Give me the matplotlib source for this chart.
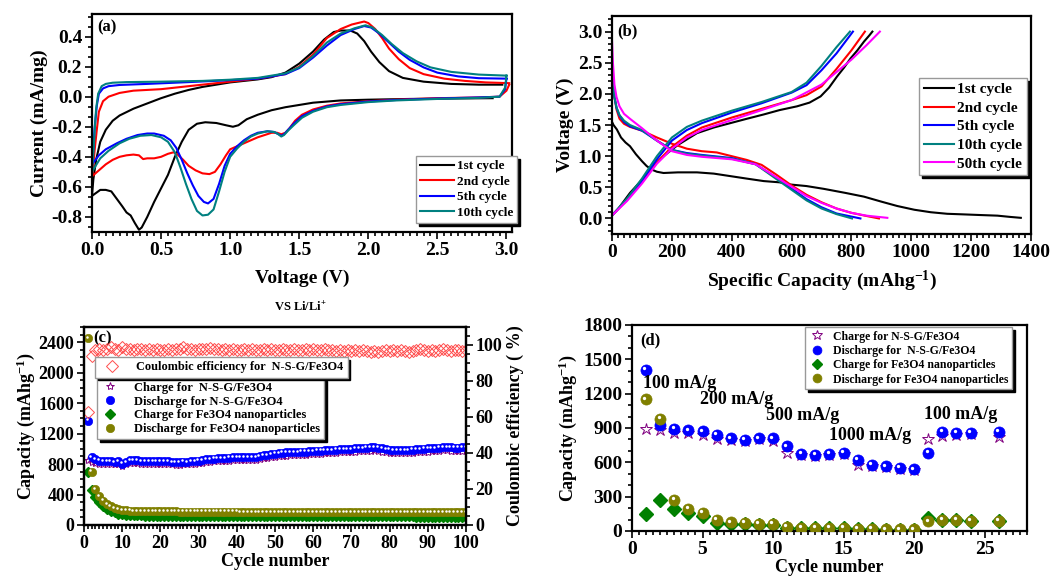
import numpy as np
import matplotlib
matplotlib.use("Agg")
import matplotlib.pyplot as plt
from matplotlib.ticker import MultipleLocator, AutoMinorLocator, FormatStrFormatter
from matplotlib.transforms import offset_copy

plt.rcParams['font.family'] = ['Liberation Serif', 'DejaVu Serif']
plt.rcParams['font.weight'] = 'bold'
plt.rcParams['axes.labelweight'] = 'bold'
plt.rcParams['axes.unicode_minus'] = False
plt.rcParams['mathtext.fontset'] = 'custom'
plt.rcParams['mathtext.rm'] = 'Liberation Serif:bold'
plt.rcParams['mathtext.bf'] = 'Liberation Serif:bold'
plt.rcParams['mathtext.it'] = 'Liberation Serif:bold:italic'

# ---------------- (a) cyclic voltammetry ----------------
cv_labels = ["1st cycle", "2nd cycle", "5th cycle", "10th cycle"]
cv_colors = ["black", "#ff0000", "#0000ff", "#008080"]

cv1_v = [2.90, 2.6, 2.3, 2.0, 1.8, 1.6, 1.5, 1.4, 1.3, 1.2, 1.12, 1.06, 1.02, 0.97, 0.9, 0.82, 0.76,
         0.70, 0.65, 0.60, 0.55, 0.50, 0.45, 0.40, 0.36, 0.34, 0.31, 0.28, 0.25, 0.22, 0.18, 0.14, 0.10,
         0.06, 0.03, 0.0,
         0.01, 0.03, 0.06, 0.1, 0.15, 0.2, 0.3, 0.4, 0.5, 0.6, 0.7, 0.8, 0.9, 1.0, 1.1, 1.2, 1.3, 1.4,
         1.5, 1.6, 1.68, 1.75, 1.8, 1.87, 1.92, 1.97, 2.02, 2.08, 2.15, 2.25, 2.4, 2.6, 2.8, 2.97]
cv1_i = [-0.01, -0.012, -0.015, -0.02, -0.025, -0.04, -0.055, -0.07, -0.09, -0.12, -0.15, -0.19, -0.2,
         -0.19, -0.175, -0.17, -0.18, -0.22, -0.3, -0.4, -0.52, -0.61, -0.7, -0.8, -0.87, -0.885, -0.84,
         -0.79, -0.77, -0.73, -0.68, -0.63, -0.62, -0.62, -0.64, -0.66,
         -0.55, -0.42, -0.3, -0.22, -0.16, -0.125, -0.08, -0.045, -0.01, 0.02, 0.045, 0.065, 0.08,
         0.095, 0.105, 0.115, 0.13, 0.16, 0.22, 0.3, 0.38, 0.43, 0.44, 0.44, 0.42, 0.37, 0.3, 0.23,
         0.17, 0.125, 0.1, 0.085, 0.08, 0.08]

cv2_v = [3.02, 3.0, 2.95, 2.8, 2.5, 2.2, 2.0, 1.8, 1.7, 1.6, 1.52, 1.47, 1.43, 1.40, 1.37, 1.34, 1.3,
         1.25, 1.2, 1.15, 1.1, 1.05, 1.0, 0.97, 0.93, 0.89, 0.85, 0.80, 0.75, 0.70, 0.66, 0.62, 0.59,
         0.55, 0.5, 0.45, 0.4, 0.37, 0.34, 0.3, 0.25, 0.2, 0.15, 0.1, 0.05, 0.0,
         0.01, 0.02, 0.035, 0.05, 0.08, 0.12, 0.2, 0.3, 0.5, 0.7, 1.0, 1.2, 1.4, 1.5, 1.6, 1.7, 1.8,
         1.88, 1.97, 2.0, 2.05, 2.1, 2.15, 2.22, 2.3, 2.4, 2.55, 2.7, 2.85, 3.02]
cv2_i = [0.08, 0.04, 0.0, -0.005, -0.01, -0.02, -0.03, -0.045, -0.06, -0.085, -0.12, -0.16, -0.21,
         -0.24, -0.25, -0.24, -0.24, -0.255, -0.27, -0.29, -0.31, -0.33, -0.35, -0.39, -0.45, -0.5,
         -0.515, -0.51, -0.49, -0.46, -0.42, -0.385, -0.37, -0.38, -0.4, -0.41, -0.41, -0.415, -0.39,
         -0.385, -0.39, -0.40, -0.42, -0.45, -0.49, -0.53,
         -0.45, -0.35, -0.22, -0.1, -0.03, 0.0, 0.025, 0.04, 0.05, 0.07, 0.1, 0.12, 0.15, 0.2, 0.28,
         0.39, 0.45, 0.48, 0.5, 0.49, 0.45, 0.39, 0.32, 0.25, 0.19, 0.15, 0.12, 0.105, 0.095, 0.09]

cv5_v = [3.0, 2.99, 2.95, 2.8, 2.5, 2.2, 2.0, 1.8, 1.7, 1.6, 1.52, 1.46, 1.42, 1.39, 1.37, 1.35, 1.32,
         1.27, 1.2, 1.15, 1.1, 1.05, 1.0, 0.96, 0.92, 0.88, 0.84, 0.81, 0.77, 0.73, 0.69, 0.65, 0.61,
         0.57, 0.52, 0.45, 0.4, 0.33, 0.25, 0.18, 0.1, 0.05, 0.0,
         0.01, 0.02, 0.035, 0.05, 0.08, 0.12, 0.2, 0.4, 0.7, 1.0, 1.2, 1.4, 1.5, 1.6, 1.7, 1.8, 1.9,
         1.97, 2.02, 2.08, 2.15, 2.22, 2.3, 2.4, 2.5, 2.65, 2.8, 3.0]
cv5_i = [0.12, 0.05, 0.0, -0.005, -0.012, -0.022, -0.032, -0.05, -0.065, -0.095, -0.13, -0.18, -0.22,
         -0.25, -0.26, -0.25, -0.235, -0.23, -0.24, -0.26, -0.29, -0.33, -0.38, -0.46, -0.58, -0.68,
         -0.71, -0.70, -0.66, -0.59, -0.51, -0.42, -0.34, -0.29, -0.26, -0.245, -0.245, -0.255, -0.28,
         -0.31, -0.35, -0.39, -0.45,
         -0.35, -0.2, -0.06, 0.02, 0.055, 0.07, 0.078, 0.085, 0.097, 0.11, 0.12, 0.15, 0.19, 0.26,
         0.34, 0.41, 0.45, 0.47, 0.46, 0.42, 0.36, 0.3, 0.245, 0.195, 0.16, 0.135, 0.123, 0.12]

cv10_v = [3.0, 2.99, 2.95, 2.8, 2.5, 2.2, 2.0, 1.8, 1.7, 1.6, 1.52, 1.46, 1.42, 1.39, 1.37, 1.35, 1.32,
          1.27, 1.2, 1.15, 1.1, 1.05, 1.0, 0.96, 0.92, 0.88, 0.84, 0.80, 0.76, 0.72, 0.68, 0.64, 0.6,
          0.55, 0.5, 0.43, 0.35, 0.27, 0.2, 0.12, 0.06, 0.0,
          0.01, 0.02, 0.03, 0.045, 0.07, 0.1, 0.15, 0.25, 0.5, 0.8, 1.0, 1.2, 1.4, 1.5, 1.6, 1.7, 1.8,
          1.9, 1.98, 2.03, 2.1, 2.17, 2.25, 2.35, 2.45, 2.6, 2.8, 3.0]
cv10_i = [0.14, 0.06, 0.0, -0.008, -0.015, -0.025, -0.036, -0.055, -0.07, -0.1, -0.14, -0.19, -0.225,
          -0.255, -0.265, -0.25, -0.235, -0.23, -0.245, -0.265, -0.3, -0.345, -0.4, -0.5, -0.63, -0.75,
          -0.785, -0.79, -0.76, -0.68, -0.58, -0.47, -0.37, -0.3, -0.27, -0.255, -0.26, -0.28, -0.31,
          -0.36, -0.41, -0.5,
          -0.38, -0.22, -0.08, 0.02, 0.07, 0.085, 0.093, 0.097, 0.1, 0.105, 0.113, 0.125, 0.155, 0.195,
          0.27, 0.36, 0.42, 0.455, 0.475, 0.46, 0.41, 0.35, 0.29, 0.235, 0.195, 0.165, 0.147, 0.14]

# ---------------- (b) charge / discharge profiles ----------------
gcd_labels = ["1st cycle", "2nd cycle", "5th cycle", "10th cycle", "50th cycle"]
gcd_colors = ["black", "#ff0000", "#0000ff", "#008080", "#ff00ff"]

dis1_c = [0, 5, 16, 30, 45, 60, 80, 100, 116, 135, 150, 172, 220, 284, 340, 395, 450, 507, 560, 596,
          650, 708, 780, 842, 900, 953, 1010, 1065, 1120, 1177, 1230, 1288, 1330, 1366]
dis1_v = [1.55, 1.5, 1.43, 1.3, 1.22, 1.16, 1.03, 0.92, 0.84, 0.78, 0.75, 0.73, 0.74, 0.74, 0.72, 0.68,
          0.64, 0.6, 0.58, 0.545, 0.52, 0.475, 0.41, 0.35, 0.27, 0.2, 0.14, 0.1, 0.075, 0.065, 0.055,
          0.045, 0.025, 0.01]
chg1_c = [0, 20, 60, 100, 140, 172, 220, 284, 340, 395, 450, 507, 560, 618, 660, 697, 725, 752, 775,
          797, 820, 842, 860, 870]
chg1_v = [0.05, 0.15, 0.41, 0.62, 0.85, 1.0, 1.18, 1.37, 1.46, 1.53, 1.6, 1.67, 1.74, 1.8, 1.86, 1.96,
          2.1, 2.28, 2.42, 2.57, 2.7, 2.84, 2.94, 3.0]

dis2_c = [0, 3, 8, 15, 25, 40, 60, 100, 150, 200, 250, 300, 350, 400, 450, 500, 550, 600, 650, 700,
          750, 800, 850, 892]
dis2_v = [2.5, 2.2, 1.95, 1.75, 1.6, 1.52, 1.47, 1.41, 1.3, 1.2, 1.12, 1.08, 1.06, 1.0, 0.94, 0.86,
          0.7, 0.53, 0.38, 0.26, 0.16, 0.09, 0.04, 0.0]
chg2_c = [0, 50, 100, 150, 200, 250, 300, 400, 500, 600, 650, 700, 750, 800, 845]
chg2_v = [0.05, 0.3, 0.58, 0.9, 1.15, 1.33, 1.46, 1.62, 1.76, 1.9, 1.98, 2.12, 2.4, 2.7, 3.0]

dis5_c = [0, 3, 8, 15, 25, 40, 60, 100, 150, 200, 250, 300, 400, 480, 550, 600, 650, 700, 750, 800, 830]
dis5_v = [2.5, 2.2, 1.95, 1.78, 1.65, 1.55, 1.48, 1.41, 1.25, 1.1, 1.05, 1.02, 0.97, 0.87, 0.65, 0.48,
          0.31, 0.18, 0.08, 0.03, 0.0]
chg5_c = [0, 50, 100, 150, 200, 250, 300, 400, 500, 600, 650, 700, 750, 805]
chg5_v = [0.05, 0.3, 0.6, 0.95, 1.25, 1.42, 1.53, 1.7, 1.85, 2.02, 2.14, 2.38, 2.65, 3.0]

dis10_c = [0, 3, 8, 15, 25, 40, 60, 100, 150, 200, 250, 300, 400, 480, 550, 600, 650, 700, 750, 802]
dis10_v = [2.5, 2.2, 1.95, 1.78, 1.66, 1.57, 1.5, 1.42, 1.25, 1.1, 1.04, 1.01, 0.96, 0.87, 0.63, 0.46,
           0.29, 0.16, 0.07, 0.0]
chg10_c = [0, 50, 100, 150, 200, 250, 300, 400, 500, 600, 650, 700, 750, 795]
chg10_v = [0.05, 0.32, 0.64, 1.0, 1.3, 1.47, 1.57, 1.73, 1.87, 2.03, 2.18, 2.45, 2.75, 3.0]

dis50_c = [0, 3, 8, 15, 25, 40, 60, 100, 150, 200, 250, 300, 400, 480, 550, 600, 650, 700, 750, 800,
           850, 920]
dis50_v = [2.85, 2.5, 2.15, 1.95, 1.8, 1.68, 1.6, 1.45, 1.25, 1.08, 1.02, 0.99, 0.95, 0.87, 0.66, 0.51,
           0.36, 0.25, 0.16, 0.09, 0.045, 0.01]
chg50_c = [0, 50, 100, 150, 200, 250, 300, 400, 500, 600, 700, 750, 800, 850, 895]
chg50_v = [0.05, 0.28, 0.56, 0.88, 1.12, 1.3, 1.42, 1.58, 1.74, 1.9, 2.15, 2.35, 2.55, 2.78, 3.0]

# ---------------- (c) long cycling ----------------
cycles_c = list(range(1, 101))
nsg_dis_c = [1370, 895, 860, 845, 840, 838, 835, 830, 835, 805,
             830, 850, 855, 855, 840, 838, 835, 838, 840, 840,
             842, 840, 830, 825, 828, 832, 830, 835, 840, 845,
             855, 862, 868, 872, 876, 878, 880, 885, 888, 890,
             892, 895, 895, 893, 895, 905, 915, 922, 930, 938,
             945, 950, 952, 955, 958, 960, 962, 965, 968, 972,
             975, 978, 980, 982, 985, 990, 992, 995, 998, 1000,
             1005, 1008, 1012, 1015, 1018, 1020, 1015, 1005, 995, 990,
             985, 980, 980, 982, 985, 990, 995, 1000, 1002, 1005,
             1008, 1010, 1015, 1025, 1020, 1018, 1015, 1015, 1018, 1020]
nsg_chg_c = [850, 830, 815, 805, 800, 800, 798, 795, 798, 775,
             795, 812, 818, 818, 805, 802, 800, 802, 805, 805,
             806, 804, 795, 790, 792, 796, 795, 800, 805, 810,
             818, 825, 830, 835, 838, 840, 842, 846, 850, 852,
             855, 858, 858, 856, 858, 866, 876, 883, 890, 898,
             905, 910, 912, 915, 918, 920, 922, 925, 928, 932,
             935, 938, 940, 942, 945, 950, 952, 955, 958, 960,
             965, 968, 972, 975, 978, 980, 975, 965, 955, 950,
             945, 940, 940, 942, 945, 950, 955, 960, 962, 965,
             968, 970, 975, 985, 980, 978, 975, 975, 978, 980]
fe_chg_c = [700, 460, 370, 300, 250, 210, 185, 165, 150, 140,
            135, 130, 128, 126, 125, 124, 123, 122, 122, 121,
            121, 120, 120, 120, 119, 119, 119, 119, 118, 118,
            118, 118, 118, 117, 117, 117, 117, 117, 117, 116,
            116, 116, 116, 116, 116, 116, 115, 115, 115, 115,
            115, 115, 115, 115, 115, 114, 114, 114, 114, 114,
            114, 114, 114, 114, 114, 113, 113, 113, 113, 113,
            113, 113, 113, 113, 113, 112, 112, 112, 112, 112,
            112, 112, 112, 112, 112, 112, 111, 111, 111, 111,
            111, 111, 111, 111, 111, 111, 111, 110, 110, 110]
fe_dis_c = [2450, 700, 470, 380, 320, 275, 245, 225, 210, 200,
            195, 190, 187, 185, 183, 182, 181, 180, 180, 179,
            179, 178, 178, 178, 177, 177, 177, 176, 176, 176,
            176, 175, 175, 175, 175, 174, 174, 174, 174, 174,
            173, 173, 173, 173, 173, 172, 172, 172, 172, 172,
            172, 171, 171, 171, 171, 171, 171, 170, 170, 170,
            170, 170, 170, 170, 169, 169, 169, 169, 169, 169,
            169, 169, 168, 168, 168, 168, 168, 168, 168, 168,
            168, 168, 167, 167, 167, 167, 167, 167, 167, 167,
            167, 167, 167, 166, 166, 166, 166, 166, 166, 166]
ce_c = [63, 94, 97, 97.5, 97, 98, 99, 97.5, 97, 99,
        98, 97.5, 97, 98, 97.5, 97, 97.5, 97, 97.5, 97,
        97, 97.5, 97, 97.5, 98, 99, 98, 97.5, 97, 97.5,
        98, 98, 98.5, 98, 97.5, 97, 97.5, 97, 97.5, 97,
        97, 97.5, 97, 97.5, 97, 97, 97.5, 97, 97.5, 97,
        97, 97.5, 97, 97, 97.5, 97, 97, 97.5, 97, 97.5,
        97, 97, 97.5, 97, 97, 96.5, 97, 96.5, 97, 96.5,
        97, 96.5, 97, 96.5, 96, 96.5, 96, 96.5, 97, 96.5,
        97, 96.5, 97, 96.5, 96, 96.5, 97, 97.5, 97, 96.5,
        97, 96.5, 97, 97.5, 97, 96.5, 97, 97, 96.5, 97]

# ---------------- (d) rate capability ----------------
cycles_d = [1, 2, 3, 4, 5, 6, 7, 8, 9, 10, 11, 12, 13, 14, 15, 16, 17, 18, 19, 20, 21, 22, 23, 24, 26]
nsg_chg_d = [890, 885, 860, 855, 840, 805, 795, 785, 800, 790, 680, 660, 655, 665, 670,
             575, 565, 555, 540, 530, 800, 830, 840, 845, 825]
nsg_dis_d = [1410, 930, 895, 880, 870, 840, 810, 795, 810, 810, 740, 675, 665, 675, 680,
             620, 575, 565, 550, 540, 685, 865, 860, 860, 865]
fe_chg_d = [145, 275, 190, 155, 130, 70, 65, 60, 55, 50, 30, 25, 25, 25, 25,
            15, 15, 10, 10, 10, 110, 100, 95, 90, 85]
fe_dis_d = [1150, 980, 275, 195, 160, 100, 75, 70, 65, 60, 35, 30, 30, 30, 30,
            20, 20, 15, 15, 15, 85, 100, 95, 90, 90]
rate_labels = ["100 mA/g", "200 mA/g", "500 mA/g", "1000 mA/g", "100 mA/g"]
rate_pos = [(0.8, 1290), (4.8, 1150), (9.5, 1010), (14.0, 830), (20.7, 1020)]

leg_d = ["Charge for N-S-G/Fe3O4", "Discharge for  N-S-G/Fe3O4",
         "Charge for Fe3O4 nanoparticles", "Discharge for Fe3O4 nanoparticles"]
leg_c = ["Charge for  N-S-G/Fe3O4", "Discharge for N-S-G/Fe3O4",
         "Charge for Fe3O4 nanoparticles", "Discharge for Fe3O4 nanoparticles"]

BLUE = "#0000ff"
OLIVE = "#808000"
GREEN = "#008000"
PURPLE = "#800080"
CE_RED = "#ff4d4d"

shadow = {'facecolor': 'black', 'edgecolor': 'black', 'alpha': 1}


def style_axes(ax, right_ticks=False):
    for s in ax.spines.values():
        s.set_linewidth(1.6)
    ax.tick_params(which='both', direction='out', width=1.2, top=False, right=right_ticks)
    ax.tick_params(which='major', length=5, pad=2)
    ax.tick_params(which='minor', length=3)


def ball(ax, fig, x, y, color, ms, label=None, zorder=3):
    line, = ax.plot(x, y, 'o', color=color, ms=ms, mec=color, mew=0.5, label=label, zorder=zorder)
    tr = offset_copy(ax.transData, fig=fig, x=-ms * 0.15, y=ms * 0.15, units='points')
    ax.plot(x, y, 'o', color='white', ms=ms * 0.3, mew=0, transform=tr, zorder=zorder)
    return line


fig = plt.figure(figsize=(10.62, 5.81), dpi=100)

# ---- panel (a)
ax_a = fig.add_axes([0.0866, 0.6007, 0.3955, 0.3752])
for v, i, c, lab in zip([cv1_v, cv2_v, cv5_v, cv10_v], [cv1_i, cv2_i, cv5_i, cv10_i], cv_colors, cv_labels):
    ax_a.plot(v, i, color=c, lw=1.5, label=lab)
ax_a.set_xlim(0, 3.04)
ax_a.set_ylim(-0.9, 0.55)
ax_a.xaxis.set_major_locator(MultipleLocator(0.5))
ax_a.xaxis.set_minor_locator(AutoMinorLocator(10))
ax_a.yaxis.set_major_locator(MultipleLocator(0.2))
ax_a.yaxis.set_minor_locator(AutoMinorLocator(3))
ax_a.xaxis.set_major_formatter(FormatStrFormatter('%.1f'))
ax_a.yaxis.set_major_formatter(FormatStrFormatter('%.1f'))
ax_a.tick_params(labelsize=14)
style_axes(ax_a)
ax_a.set_xlabel("Voltage (V)", fontsize=14, labelpad=8)
ax_a.set_ylabel("Current (mA/mg)", fontsize=14, labelpad=2)
ax_a.text(0.012, 0.975, "(a)", transform=ax_a.transAxes, fontsize=12, va='top', ha='left')
ax_a.legend(loc='upper left', bbox_to_anchor=(0.3917, 0.7315), bbox_transform=fig.transFigure,
            fontsize=9.5, frameon=True, fancybox=False, shadow=shadow, edgecolor='#999999',
            handlelength=2.6, handletextpad=0.2, labelspacing=0.25, borderpad=0.3, borderaxespad=0)
fig.text(0.2825, 0.4716, "VS Li/Li$^{+}$", fontsize=9, ha='center', va='center')

# ---- panel (b)
ax_b = fig.add_axes([0.5763, 0.5972, 0.3945, 0.3752])
for dc, dv, cc, cv, col, lab in zip([dis1_c, dis2_c, dis5_c, dis10_c, dis50_c],
                                    [dis1_v, dis2_v, dis5_v, dis10_v, dis50_v],
                                    [chg1_c, chg2_c, chg5_c, chg10_c, chg50_c],
                                    [chg1_v, chg2_v, chg5_v, chg10_v, chg50_v],
                                    gcd_colors, gcd_labels):
    ax_b.plot(dc, dv, color=col, lw=1.5, label=lab)
    ax_b.plot(cc, cv, color=col, lw=1.5)
ax_b.set_xlim(0, 1400)
ax_b.set_ylim(-0.25, 3.25)
ax_b.xaxis.set_major_locator(MultipleLocator(200))
ax_b.xaxis.set_minor_locator(AutoMinorLocator(10))
ax_b.yaxis.set_major_locator(MultipleLocator(0.5))
ax_b.yaxis.set_minor_locator(AutoMinorLocator(5))
ax_b.yaxis.set_major_formatter(FormatStrFormatter('%.1f'))
ax_b.tick_params(labelsize=14)
style_axes(ax_b)
ax_b.set_xlabel("Specific Capacity (mAhg$^{-1}$)", fontsize=14, labelpad=6)
ax_b.set_ylabel("Voltage (V)", fontsize=14, labelpad=3)
ax_b.text(0.012, 0.965, "(b)", transform=ax_b.transAxes, fontsize=12, va='top', ha='left')
ax_b.legend(loc='upper left', bbox_to_anchor=(0.8653, 0.8657), bbox_transform=fig.transFigure,
            fontsize=11, frameon=True, fancybox=False, shadow=shadow, edgecolor='#999999',
            handlelength=2.0, handletextpad=0.2, labelspacing=0.32, borderpad=0.3, borderaxespad=0)

# ---- panel (c)
ax_c = fig.add_axes([0.0791, 0.0964, 0.3597, 0.3408])
ax_c2 = ax_c.twinx()
h1, = ax_c.plot(cycles_c, nsg_chg_c, '*', ms=6, mfc='none', mec=PURPLE, mew=0.7, label=leg_c[0])
h2 = ball(ax_c, fig, cycles_c, nsg_dis_c, BLUE, 6, label=leg_c[1])
h3, = ax_c.plot(cycles_c, fe_chg_c, 'D', ms=5, color=GREEN, label=leg_c[2])
h4 = ball(ax_c, fig, cycles_c, fe_dis_c, OLIVE, 6, label=leg_c[3])
hce, = ax_c2.plot(cycles_c, ce_c, 'D', ms=6, mfc='none', mec=CE_RED, mew=0.7,
                  label="Coulombic efficiency for  N-S-G/Fe3O4")
ax_c.set_xlim(0, 100)
ax_c.set_ylim(0, 2600)
ax_c2.set_ylim(0, 110)
ax_c.xaxis.set_major_locator(MultipleLocator(10))
ax_c.xaxis.set_minor_locator(AutoMinorLocator(10))
ax_c.yaxis.set_major_locator(MultipleLocator(400))
ax_c.yaxis.set_minor_locator(AutoMinorLocator(4))
ax_c2.yaxis.set_major_locator(MultipleLocator(20))
ax_c2.yaxis.set_minor_locator(AutoMinorLocator(4))
ax_c.tick_params(labelsize=13)
ax_c2.tick_params(labelsize=13)
style_axes(ax_c)
style_axes(ax_c2, right_ticks=True)
ax_c.set_xlabel("Cycle number", fontsize=13, labelpad=1)
ax_c.set_ylabel("Capacity (mAhg$^{-1}$)", fontsize=13, labelpad=1)
ax_c2.set_ylabel("Coulombic efficiency ( %)", fontsize=13, labelpad=3)
ax_c.text(0.025, 0.985, "(c)", transform=ax_c.transAxes, fontsize=12, va='top', ha='left')
ax_c.legend(handles=[h1, h2, h3, h4], loc='upper left', bbox_to_anchor=(0.0913, 0.3494),
            bbox_transform=fig.transFigure, fontsize=9, frameon=True, fancybox=False, shadow=shadow,
            edgecolor='#999999', handlelength=1.5, handletextpad=1.2, labelspacing=0.15, borderpad=0.3,
            borderaxespad=0, framealpha=1)
ax_c2.legend(handles=[hce], loc='upper left', bbox_to_anchor=(0.0895, 0.3855),
             bbox_transform=fig.transFigure, fontsize=8.8, frameon=True, fancybox=False, shadow=shadow,
             edgecolor='#999999', handlelength=2.0, handletextpad=1.0, borderpad=0.35, borderaxespad=0,
             framealpha=1)

# ---- panel (d)
ax_d = fig.add_axes([0.5951, 0.0861, 0.3719, 0.3546])
d1, = ax_d.plot(cycles_d, nsg_chg_d, '*', ms=9, mfc='none', mec=PURPLE, mew=0.7, label=leg_d[0])
d2 = ball(ax_d, fig, cycles_d, nsg_dis_d, BLUE, 8, label=leg_d[1])
d3, = ax_d.plot(cycles_d, fe_chg_d, 'D', ms=7, color=GREEN, label=leg_d[2])
d4 = ball(ax_d, fig, cycles_d, fe_dis_d, OLIVE, 8, label=leg_d[3])
for txt, (x, y) in zip(rate_labels, rate_pos):
    ax_d.text(x, y, txt, fontsize=13, ha='left', va='center')
ax_d.set_xlim(0, 28)
ax_d.set_ylim(0, 1800)
ax_d.xaxis.set_major_locator(MultipleLocator(5))
ax_d.xaxis.set_minor_locator(AutoMinorLocator(10))
ax_d.yaxis.set_major_locator(MultipleLocator(300))
ax_d.yaxis.set_minor_locator(AutoMinorLocator(3))
ax_d.tick_params(labelsize=14)
style_axes(ax_d)
ax_d.set_xlabel("Cycle number", fontsize=13, labelpad=1)
ax_d.set_ylabel("Capacity (mAhg$^{-1}$)", fontsize=13, labelpad=3)
ax_d.text(0.02, 0.965, "(d)", transform=ax_d.transAxes, fontsize=12, va='top', ha='left')
ax_d.legend(handles=[d1, d2, d3, d4], loc='upper left', bbox_to_anchor=(0.758, 0.4372),
            bbox_transform=fig.transFigure, fontsize=8.5, frameon=True, fancybox=False, shadow=shadow,
            edgecolor='#999999', handlelength=1.5, handletextpad=0.6, labelspacing=0.2, borderpad=0.3,
            borderaxespad=0, framealpha=1, markerscale=0.8)

fig.savefig("out.png", dpi=100)
